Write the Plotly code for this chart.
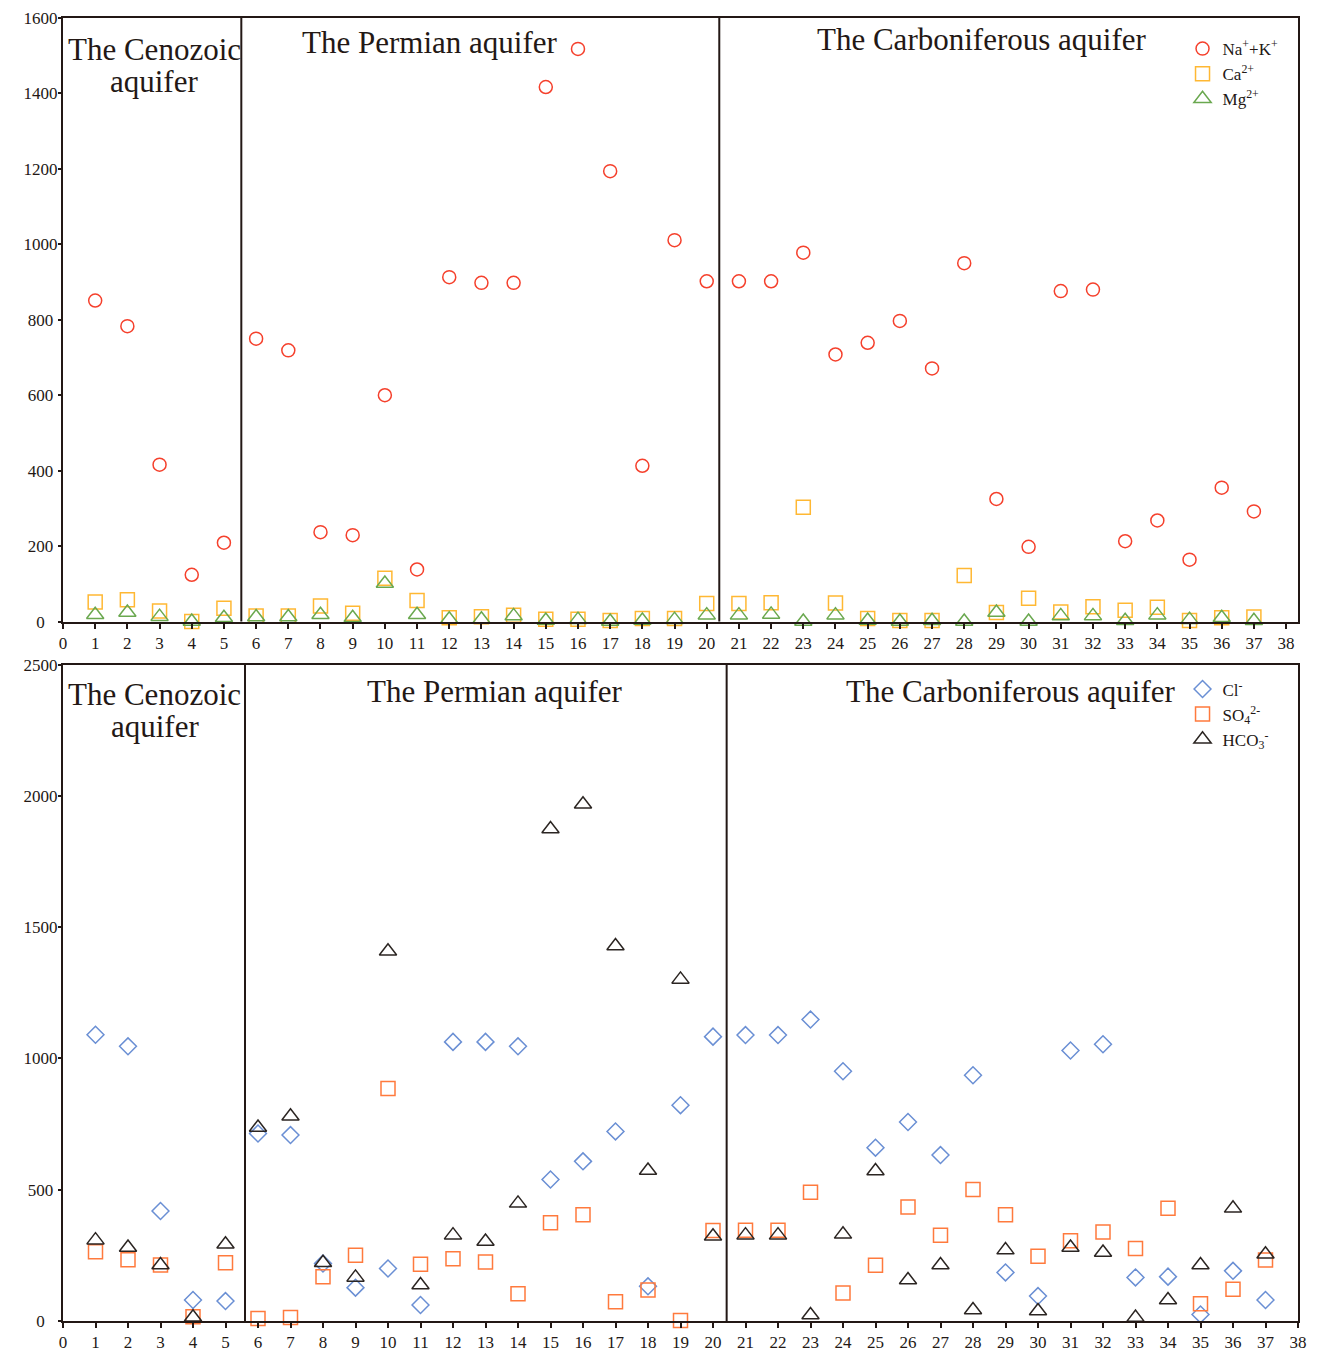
import plotly.graph_objects as go

samples = list(range(1, 38))

na_k = [851, 783, 416, 124, 209, 750, 719, 237, 229, 600, 138, 913, 898, 898, 1417, 1518, 1194, 413, 1011, 902,
        902, 902, 978, 708, 739, 797, 671, 950, 325, 198, 876, 880, 213, 268, 164, 355, 292]
ca = [52, 58, 28, 0, 35, 15, 15, 41, 22, 115, 56, 10, 13, 17, 6, 6, 3, 8, 8, 48,
      48, 50, 303, 49, 8, 3, 3, 122, 24, 62, 25, 39, 30, 38, 3, 10, 12]
mg = [18, 24, 13, 0, 10, 12, 12, 18, 10, 101, 18, 6, 6, 15, 3, 5, 0, 3, 5, 17,
      17, 19, 0, 17, 3, 0, 2, 0, 24, 0, 15, 15, 2, 17, 5, 10, 2]

cl = [1090, 1046, 419, 80, 76, 714, 708, 219, 127, 200, 61, 1063, 1063, 1046, 539, 608, 722, 132, 822, 1083,
      1089, 1089, 1148, 951, 660, 758, 632, 936, 185, 95, 1030, 1054, 166, 169, 25, 191, 80]
so4 = [264, 233, 213, 16, 222, 10, 13, 169, 250, 885, 216, 237, 225, 104, 374, 405, 73, 118, 2, 345,
       346, 346, 490, 107, 212, 434, 327, 501, 405, 247, 306, 339, 276, 429, 66, 121, 232]
hco3 = [308, 280, 213, 14, 292, 737, 780, 222, 166, 1408, 137, 327, 303, 448, 1874, 1968, 1428, 573, 1301, 323,
        327, 327, 23, 330, 571, 156, 213, 42, 270, 38, 280, 261, 13, 80, 213, 429, 254]

x_ticks = list(range(0, 39))
top_y_ticks = list(range(0, 1601, 200))
bot_y_ticks = list(range(0, 2501, 500))


def centered(vals):
    # pad with punctuation spaces (half a digit each) so labels look centred
    out = []
    for v in vals:
        s = str(v)
        out.append(s + "\u2008" * (4 - len(s)))
    return out


SERIF = "Liberation Serif"
INK = "#231815"

fig = go.Figure()

def add(x, y, name, symbol, color, size, xa, ya, legend):
    fig.add_trace(go.Scatter(
        x=x, y=y, mode="markers", name=name, xaxis=xa, yaxis=ya, legend=legend,
        cliponaxis=False,
        marker=dict(symbol=symbol, size=size, color=color,
                    line=dict(color=color, width=1.5)),
    ))

add(samples, na_k, "Na<sup>+</sup>+K<sup>+</sup>", "circle-open", "#F5402C", 13, "x", "y", "legend")
add(samples, ca, "Ca<sup>2+</sup>", "square-open", "#FFB833", 14, "x", "y", "legend")
add(samples, mg, "Mg<sup>2+</sup>", "triangle-up-open", "#6AA84F", 15, "x", "y", "legend")

add(samples, cl, "Cl<sup>-</sup>", "diamond-open", "#6A8FD4", 13, "x2", "y2", "legend2")
add(samples, so4, "SO<sub>4</sub><sup>2-</sup>", "square-open", "#FF7A3D", 14, "x2", "y2", "legend2")
add(samples, hco3, "HCO<sub>3</sub><sup>-</sup>", "triangle-up-open", "#2B2522", 15, "x2", "y2", "legend2")

axis_common = dict(showline=True, mirror=True, linecolor=INK, linewidth=2,
                   ticks="outside", tickwidth=1.5, tickcolor=INK,
                   showgrid=False, zeroline=False, automargin=False,
                   tickfont=dict(family=SERIF, size=17, color=INK))

top_dom = [0.5368, 1.0]
bot_dom = [0.0, 0.5038]

fig.update_layout(
    width=1320, height=1355,
    margin=dict(l=55, r=30, t=10, b=42, autoexpand=False),
    paper_bgcolor="white", plot_bgcolor="white",
    xaxis=dict(domain=[0, 1], anchor="y", range=[0, 38.37], tickvals=x_ticks, ticklen=5, **axis_common),
    yaxis=dict(domain=top_dom, anchor="x", range=[0, 1600], tickvals=top_y_ticks, ticklen=3,
               ticktext=centered(top_y_ticks), ticklabelstandoff=-3, **axis_common),
    xaxis2=dict(domain=[0, 1], anchor="y2", range=[0, 38], tickvals=x_ticks, ticklen=5, **axis_common),
    yaxis2=dict(domain=bot_dom, anchor="x2", range=[0, 2500], tickvals=bot_y_ticks, ticklen=3,
                ticktext=centered(bot_y_ticks), ticklabelstandoff=-3, **axis_common),
    legend=dict(x=0.9065, y=0.99, xanchor="left", yanchor="top", bgcolor="rgba(0,0,0,0)",
                font=dict(family=SERIF, size=17, color=INK), tracegroupgap=0, itemwidth=30),
    legend2=dict(x=0.9065, y=0.4985, xanchor="left", yanchor="top", bgcolor="rgba(0,0,0,0)",
                 font=dict(family=SERIF, size=17, color=INK), tracegroupgap=0, itemwidth=30),
    showlegend=True,
)

# divider lines between aquifers
for xv in [5.54, 20.39]:
    fig.add_shape(type="line", xref="x", yref="y domain", x0=xv, x1=xv, y0=0, y1=1,
                  line=dict(color=INK, width=2))
for xv in [5.6, 20.42]:
    fig.add_shape(type="line", xref="x2", yref="y2 domain", x0=xv, x1=xv, y0=0, y1=1,
                  line=dict(color=INK, width=2))

labels = [
    ("x", "y domain", 2.83, 0.948, "The Cenozoic"),
    ("x", "y domain", 2.83, 0.895, "aquifer"),
    ("x", "y domain", 11.4, 0.96, "The Permian aquifer"),
    ("x", "y domain", 28.55, 0.964, "The Carboniferous aquifer"),
    ("x2", "y2 domain", 2.82, 0.955, "The Cenozoic"),
    ("x2", "y2 domain", 2.82, 0.906, "aquifer"),
    ("x2", "y2 domain", 13.28, 0.959, "The Permian aquifer"),
    ("x2", "y2 domain", 29.15, 0.959, "The Carboniferous aquifer"),
]
for xr, yr, xv, yv, txt in labels:
    fig.add_annotation(xref=xr, yref=yr, x=xv, y=yv, text=txt, showarrow=False,
                       xanchor="center", yanchor="middle",
                       font=dict(family=SERIF, size=31, color=INK))

fig.write_html("out.html")
